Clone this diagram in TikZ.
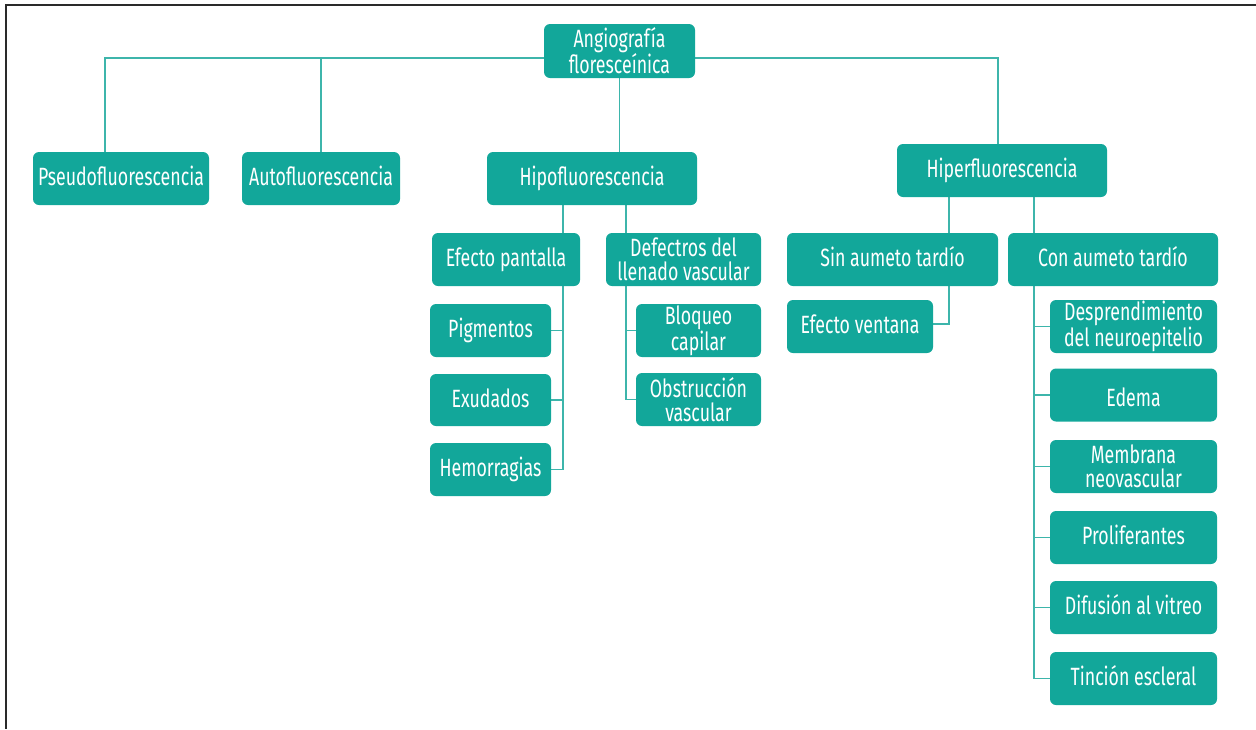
\documentclass[tikz,border=0pt]{standalone}
\usepackage{fontspec}
\setmainfont{Fira Sans}[FakeStretch=0.71]
\usetikzlibrary{backgrounds}
\definecolor{boxteal}{HTML}{12A79A}
\definecolor{lineteal}{HTML}{3DB5AB}
\definecolor{framegray}{HTML}{2A2A2A}
\tikzset{
  box/.style={rectangle, rounded corners=6pt, fill=boxteal, text=white,
    inner sep=0pt, align=center, font=\fontsize{25}{24.5}\selectfont},
  one/.style={box, text height=18pt, text depth=4pt},
  link/.style={draw=lineteal, line width=1.4pt},
  frame/.style={draw=framegray, line width=1.5pt}
}
\begin{document}
\begin{tikzpicture}[x=1pt,y=-1pt]
\useasboundingbox (0,0) rectangle (1256,729);
\draw[frame] (5,5) -- (1256,5);
\draw[frame] (6,5) -- (6,729);

\node[box, minimum width=151pt, minimum height=54pt, font=\fontsize{25}{26}\selectfont] (angio) at (619.5,51) {Angiografía\\floresceínica};
\node[one, minimum width=176pt, minimum height=53pt] (pseudo) at (121,178.5) {Pseudofluorescencia};
\node[one, minimum width=158pt, minimum height=53pt] (auto) at (321,178.5) {Autofluorescencia};
\node[one, minimum width=210pt, minimum height=53pt] (hipo) at (592,178.5) {Hipofluorescencia};
\node[one, minimum width=210pt, minimum height=53pt] (hiper) at (1002,170.5) {Hiperfluorescencia};

\node[one, minimum width=148pt, minimum height=53pt] (efecto) at (506,259.5) {Efecto pantalla};
\node[box, minimum width=155pt, minimum height=53pt] (defect) at (683.5,259.5) {Defectros del\\llenado vascular};
\node[one, minimum width=121pt, minimum height=53pt] (pig) at (490.5,330.5) {Pigmentos};
\node[one, minimum width=121pt, minimum height=52pt] (exu) at (490.5,400) {Exudados};
\node[one, minimum width=121pt, minimum height=53pt] (hemo) at (490.5,469.5) {Hemorragias};
\node[box, minimum width=125pt, minimum height=53pt] (bloq) at (698.5,330.5) {Bloqueo\\capilar};
\node[box, minimum width=125pt, minimum height=53pt] (obst) at (698.5,399.5) {Obstrucción\\vascular};

\node[one, minimum width=211pt, minimum height=53pt] (sin) at (892.5,259.5) {Sin aumeto tardío};
\node[one, minimum width=210pt, minimum height=53pt] (con) at (1113,259.5) {Con aumeto tardío};
\node[one, minimum width=146pt, minimum height=53pt] (ventana) at (860,326.5) {Efecto ventana};
\node[box, minimum width=167pt, minimum height=53pt] (desp) at (1133.5,326.5) {Desprendimiento\\del neuroepitelio};
\node[box, text height=22pt, text depth=0pt, minimum width=167pt, minimum height=53pt] (edema) at (1133.5,395) {Edema};
\node[box, minimum width=167pt, minimum height=53pt] (membrana) at (1133.5,466.5) {Membrana\\neovascular};
\node[one, minimum width=167pt, minimum height=53pt] (prolif) at (1133.5,537.5) {Proliferantes};
\node[one, minimum width=167pt, minimum height=53pt] (difus) at (1133.5,607.5) {Difusión al vitreo};
\node[one, minimum width=167pt, minimum height=53pt] (tincion) at (1133.5,678.5) {Tinción escleral};

\begin{pgfonlayer}{background}
\coordinate (bar) at (0,58);
\coordinate (p1) at ([xshift=-16pt]pseudo.north);
\coordinate (h1) at ([xshift=-4pt]hiper.north);
\draw[link] (p1) -- (p1 |- bar) -- (h1 |- bar) -- (h1);
\draw[link] (auto.north) -- (auto.north |- bar);
\draw[link] (angio.south) -- (angio.south |- hipo.north);
% Hipofluorescencia
\coordinate (hl) at ([xshift=-29pt]hipo.south);
\coordinate (hr) at ([xshift=34pt]hipo.south);
\draw[link] (hl) -- (hl |- efecto.north);
\draw[link] (hr) -- (hr |- defect.north);
\coordinate (ev) at ([xshift=57pt]efecto.south);
\draw[link] (ev) |- (hemo.east);
\draw[link] (pig.east) -- (pig.east -| ev);
\draw[link] (exu.east) -- (exu.east -| ev);
\coordinate (dv) at ([xshift=-57.5pt]defect.south);
\draw[link] (dv) |- (obst.west);
\draw[link] (bloq.west) -- (bloq.west -| dv);
% Hiperfluorescencia
\coordinate (xl) at ([xshift=-53pt]hiper.south);
\coordinate (xr) at ([xshift=32pt]hiper.south);
\draw[link] (xl) -- (xl |- sin.north);
\draw[link] (xr) -- (xr |- con.north);
\coordinate (sv) at ([xshift=56.5pt]sin.south);
\draw[link] (sv) |- ([yshift=2.5pt]ventana.east);
\coordinate (cv) at ([xshift=-79pt]con.south);
\draw[link] (cv) |- (tincion.west);
\draw[link] (desp.west) -- (desp.west -| cv);
\draw[link] (edema.west) -- (edema.west -| cv);
\draw[link] (membrana.west) -- (membrana.west -| cv);
\draw[link] (prolif.west) -- (prolif.west -| cv);
\draw[link] (difus.west) -- (difus.west -| cv);
\end{pgfonlayer}
\end{tikzpicture}
\end{document}
